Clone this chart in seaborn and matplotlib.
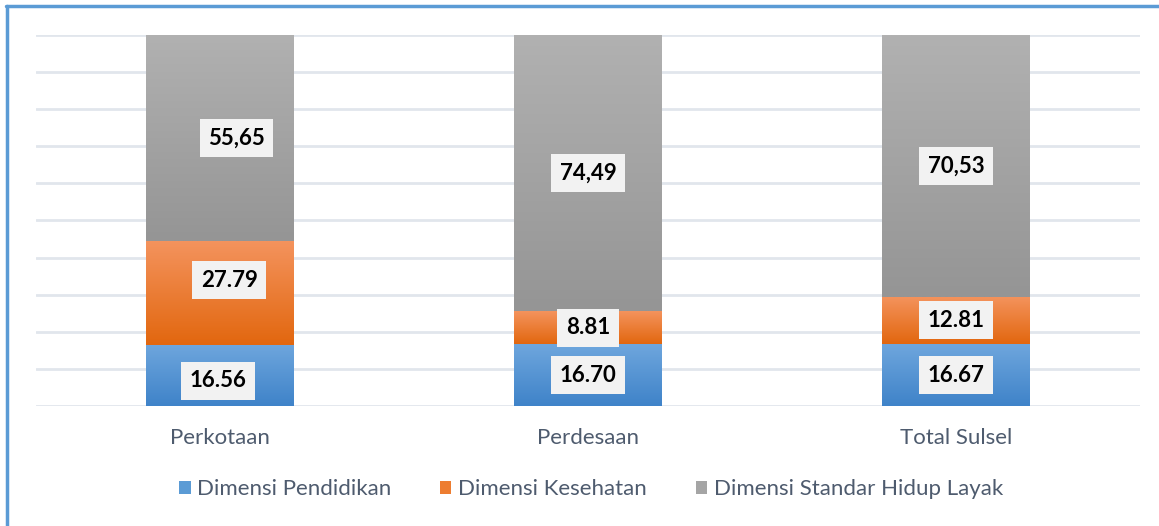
import numpy as np
import pandas as pd
import matplotlib
matplotlib.use('Agg')
import matplotlib.pyplot as plt
import seaborn as sns
from matplotlib.patches import Patch
from matplotlib.lines import Line2D
from matplotlib.colors import LinearSegmentedColormap

# data (percent share of each dimension)
categories = ["Perkotaan", "Perdesaan", "Total Sulsel"]
pendidikan = [16.56, 16.70, 16.67]
kesehatan = [27.79, 8.81, 12.81]
standar_hidup = [55.65, 74.49, 70.53]
label_pendidikan = ["16.56", "16.70", "16.67"]
label_kesehatan = ["27.79", "8.81", "12.81"]
label_standar = ["55,65", "74,49", "70,53"]
series_names = ["Dimensi Pendidikan", "Dimensi Kesehatan", "Dimensi Standar Hidup Layak"]

# gradient (top, bottom) and legend colour per series
grad_colors = [("#6EA6DD", "#3F83C9"), ("#F4935D", "#E2670F"), ("#B1B1B1", "#959595")]
legend_colors = ["#5B9BD5", "#ED7D31", "#A5A5A5"]
txt_color = "#4E5B6E"

sns.set_style("white")
plt.rcParams['font.family'] = ['Lato', 'DejaVu Sans']

fig = plt.figure(figsize=(11.59, 5.26), dpi=100)
ax = fig.add_axes([0.0311, 0.2281, 0.9525, 0.7054])

df = pd.DataFrame({"cat": categories, "p": pendidikan, "k": kesehatan, "s": standar_hidup})
bottoms = [np.zeros(3), np.array(pendidikan), np.array(pendidikan) + np.array(kesehatan)]
cols = ["p", "k", "s"]
for i, c in enumerate(cols):
    sns.barplot(data=df, x="cat", y=c, bottom=bottoms[i], color=legend_colors[i],
                width=0.4, ax=ax, zorder=2, linewidth=0, saturation=1)

# paint a vertical gradient inside each bar
for i, cont in enumerate(ax.containers):
    cmap = LinearSegmentedColormap.from_list("g%d" % i, [grad_colors[i][1], grad_colors[i][0]])
    for p in cont.patches:
        x0, y0, w, h = p.get_x(), p.get_y(), p.get_width(), p.get_height()
        grad = np.linspace(0, 1, 100).reshape(-1, 1)
        im = ax.imshow(grad, extent=[x0, x0 + w, y0, y0 + h], origin="lower",
                       cmap=cmap, aspect="auto", zorder=3, interpolation="bilinear")
        im.set_clip_path(p)

ax.set_xlim(-0.5, 2.5)
ax.set_ylim(0, 100)
ax.set_yticks(np.arange(0, 101, 10))
ax.yaxis.grid(True, color="#E1E6EC", linewidth=2, zorder=0)
ax.set_axisbelow(True)
for sp in ax.spines.values():
    sp.set_visible(False)
ax.set_yticklabels([])
ax.tick_params(axis="y", length=0)
ax.tick_params(axis="x", length=0, pad=16, labelsize=16, labelcolor=txt_color)
ax.set_xlabel("")
ax.set_ylabel("")

# data labels with light boxes
box = dict(boxstyle="square,pad=0.38", facecolor="#F2F2F2", edgecolor="none")
label_sets = [label_pendidikan, label_kesehatan, label_standar]
vals = [pendidikan, kesehatan, standar_hidup]
# Perkotaan labels sit a little right of centre in the original
x_shift = [[-0.005, 0, 0], [0.025, 0, 0], [0.045, 0, 0]]
for i in range(3):
    for j in range(3):
        yc = bottoms[i][j] + vals[i][j] / 2
        if j == 0 and i == 1:
            yc += 3.5
        if j == 0 and i == 0:
            yc -= 1.5
        ax.text(j + x_shift[i][j], yc, label_sets[i][j], ha="center", va="center",
                fontsize=16, fontweight="bold", color="black", bbox=box, zorder=5)

handles = [Patch(facecolor=c, edgecolor="none") for c in legend_colors]
fig.legend(handles, series_names, loc="center", bbox_to_anchor=(0.51, 0.07),
           ncol=3, frameon=False, fontsize=16, labelcolor=txt_color,
           handlelength=0.5, handleheight=0.5, handletextpad=0.3, columnspacing=2.2)

# blue frame along top and left edges
fig.add_artist(Line2D([0.0055, 1.0], [0.9895, 0.9895], color="#5B9BD5", linewidth=2.5))
fig.add_artist(Line2D([0.0060, 0.0060], [0.0, 0.9895], color="#5B9BD5", linewidth=2.5))

fig.savefig("out.png", dpi=100)
